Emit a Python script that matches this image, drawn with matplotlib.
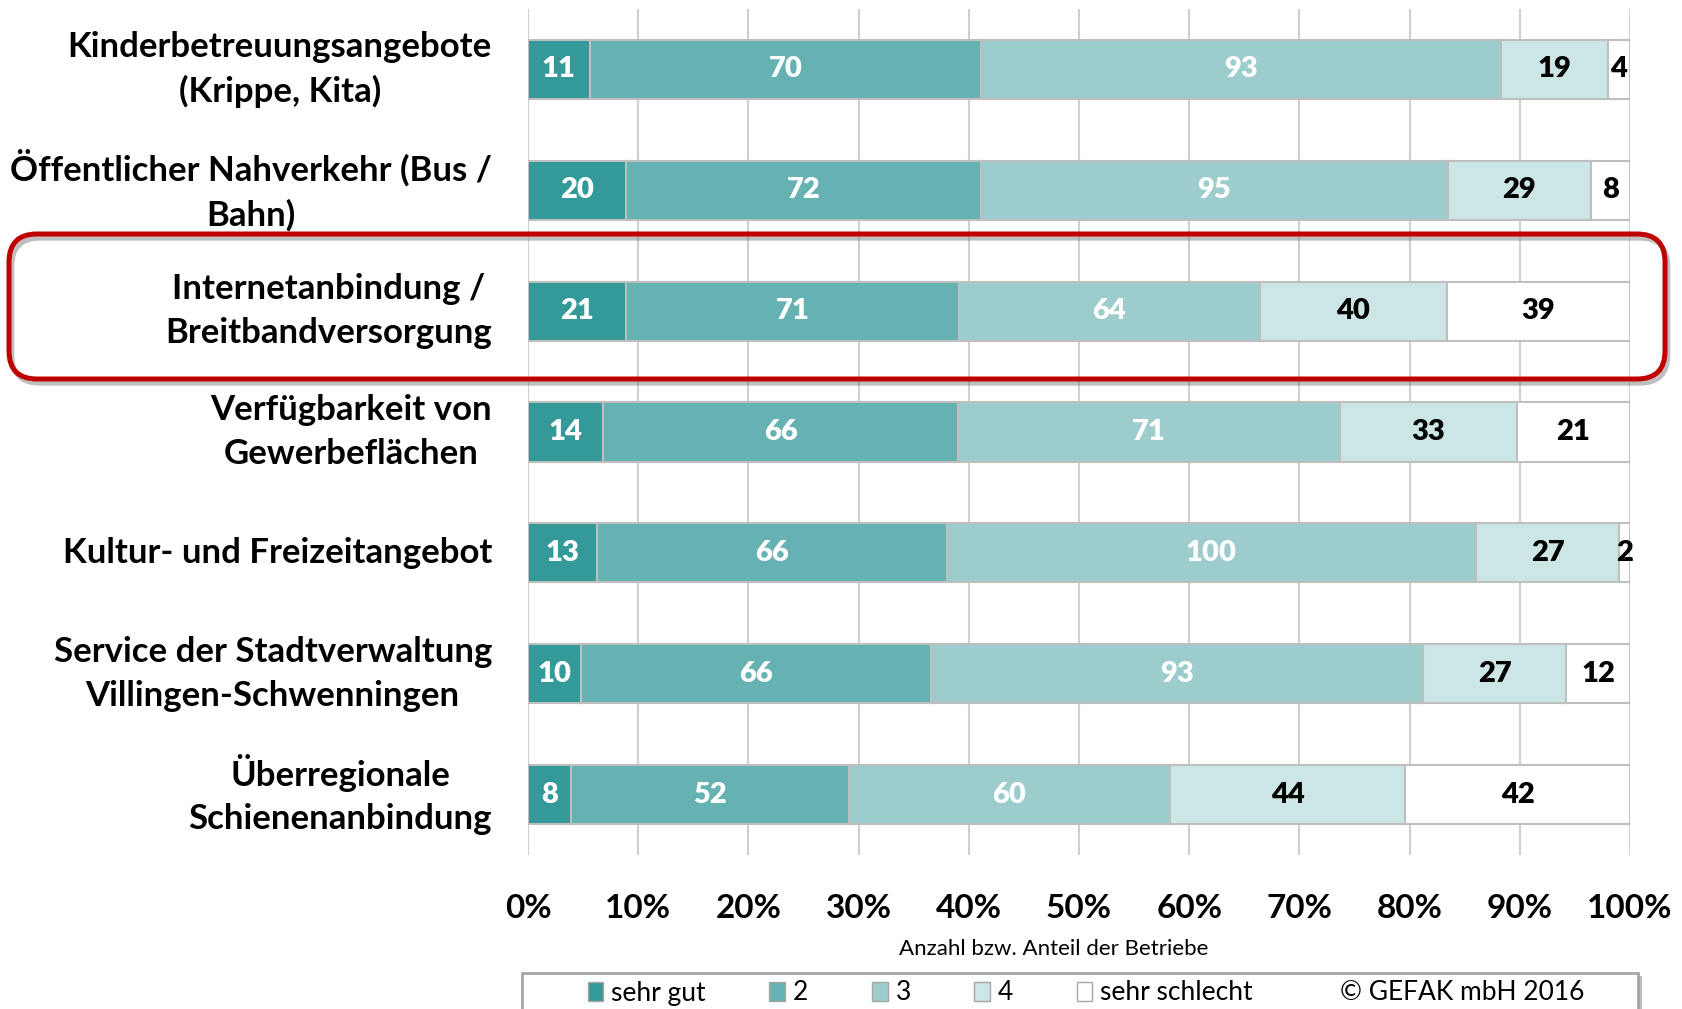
import matplotlib
matplotlib.use("Agg")
import matplotlib.pyplot as plt
import numpy as np
from matplotlib.patches import Patch, FancyBboxPatch, Rectangle
from matplotlib.transforms import IdentityTransform
import matplotlib.patheffects as pe

plt.rcParams['font.family'] = ['Lato', 'DejaVu Sans']

categories = [
    "Kinderbetreuungsangebote\n(Krippe, Kita)",
    "Öffentlicher Nahverkehr (Bus /\nBahn)",
    "Internetanbindung /\nBreitbandversorgung",
    "Verfügbarkeit von\nGewerbeflächen",
    "Kultur- und Freizeitangebot",
    "Service der Stadtverwaltung\nVillingen-Schwenningen",
    "Überregionale\nSchienenanbindung",
]
series_names = ["sehr gut", "2", "3", "4", "sehr schlecht"]
sehr_gut = [11, 20, 21, 14, 13, 10, 8]
note_2 = [70, 72, 71, 66, 66, 66, 52]
note_3 = [93, 95, 64, 71, 100, 93, 60]
note_4 = [19, 29, 40, 33, 27, 27, 44]
sehr_schlecht = [4, 8, 39, 21, 2, 12, 42]
x_ticks = [0, 10, 20, 30, 40, 50, 60, 70, 80, 90, 100]
x_ticklabels = ["0%", "10%", "20%", "30%", "40%", "50%", "60%", "70%", "80%", "90%", "100%"]
copyright_text = "© GEFAK mbH 2016"
axis_title = "Anzahl bzw. Anteil der Betriebe"

colors = ["#339999", "#66B2B2", "#9CCCCC", "#CCE5E5", "#FFFFFF"]
label_colors = ["white", "white", "white", "black", "black"]
edge = "#BFBFBF"

counts = np.array([sehr_gut, note_2, note_3, note_4, sehr_schlecht], dtype=float)
totals = counts.sum(axis=0)
pct = counts / totals * 100

W, H = 1682, 1009
fig = plt.figure(figsize=(W / 100, H / 100), dpi=100)
ax = fig.add_axes([528 / W, 1 - 855 / H, (1630 - 528) / W, (855 - 9) / H])

y = np.arange(len(categories))
left = np.zeros(len(categories))
for i in range(5):
    ax.barh(y, pct[i], left=left, height=0.49, color=colors[i],
            edgecolor=edge, linewidth=1.5, zorder=3)
    for j in range(len(categories)):
        ax.text(left[j] + pct[i][j] / 2, y[j], f"{int(counts[i][j])}",
                ha="center", va="center", fontsize=21, fontweight="heavy",
                color=label_colors[i], zorder=4)
    left += pct[i]

ax.set_xlim(0, 100)
ax.set_ylim(len(categories) - 0.5, -0.5)
ax.set_xticks(x_ticks)
ax.set_xticklabels(x_ticklabels, fontsize=24, fontweight="bold")
ax.set_yticks(y)
ax.set_yticklabels(categories, fontsize=25, fontweight="bold",
                   multialignment="center", linespacing=1.45, va="center")
ax.tick_params(axis="both", length=0)
ax.tick_params(axis="y", pad=26)
ax.tick_params(axis="x", pad=28)
ax.grid(axis="x", color="#D0D0D0", linewidth=1.5, zorder=0)
for s in ax.spines.values():
    s.set_visible(False)

fig.text(1054 / W, 1 - 949 / H, axis_title, ha="center", va="center", fontsize=16)

# legend frame
frame = Rectangle((522, -20), 1638 - 522, 20 + (H - 973), transform=IdentityTransform(),
                  facecolor="white", edgecolor="#A6A6A6", linewidth=2,
                  path_effects=[pe.withSimplePatchShadow(offset=(3, -2), shadow_rgbFace="gray", alpha=0.5)])
fig.patches.append(frame)

handles = [Patch(facecolor=c, edgecolor="#A6A6A6") for c in colors]
handles.append(Patch(facecolor="none", edgecolor="none"))
labels = series_names + [copyright_text]
fig.legend(handles, labels, loc="center", bbox_to_anchor=(1086 / W, (H - 993) / H),
           ncol=6, frameon=False, fontsize=19, handlelength=0.6, handleheight=0.75,
           handletextpad=0.3, columnspacing=2.4, borderpad=0)

# red highlight box
box = FancyBboxPatch((9, H - 379), 1665 - 9, 379 - 234,
                     boxstyle="round,pad=0,rounding_size=28", transform=IdentityTransform(),
                     facecolor="none", edgecolor="#C00000", linewidth=3.6, zorder=10,
                     path_effects=[pe.SimpleLineShadow(offset=(2, -3), shadow_color="gray", alpha=0.5),
                                   pe.Normal()])
fig.patches.append(box)

fig.savefig("out.png", dpi=100)
